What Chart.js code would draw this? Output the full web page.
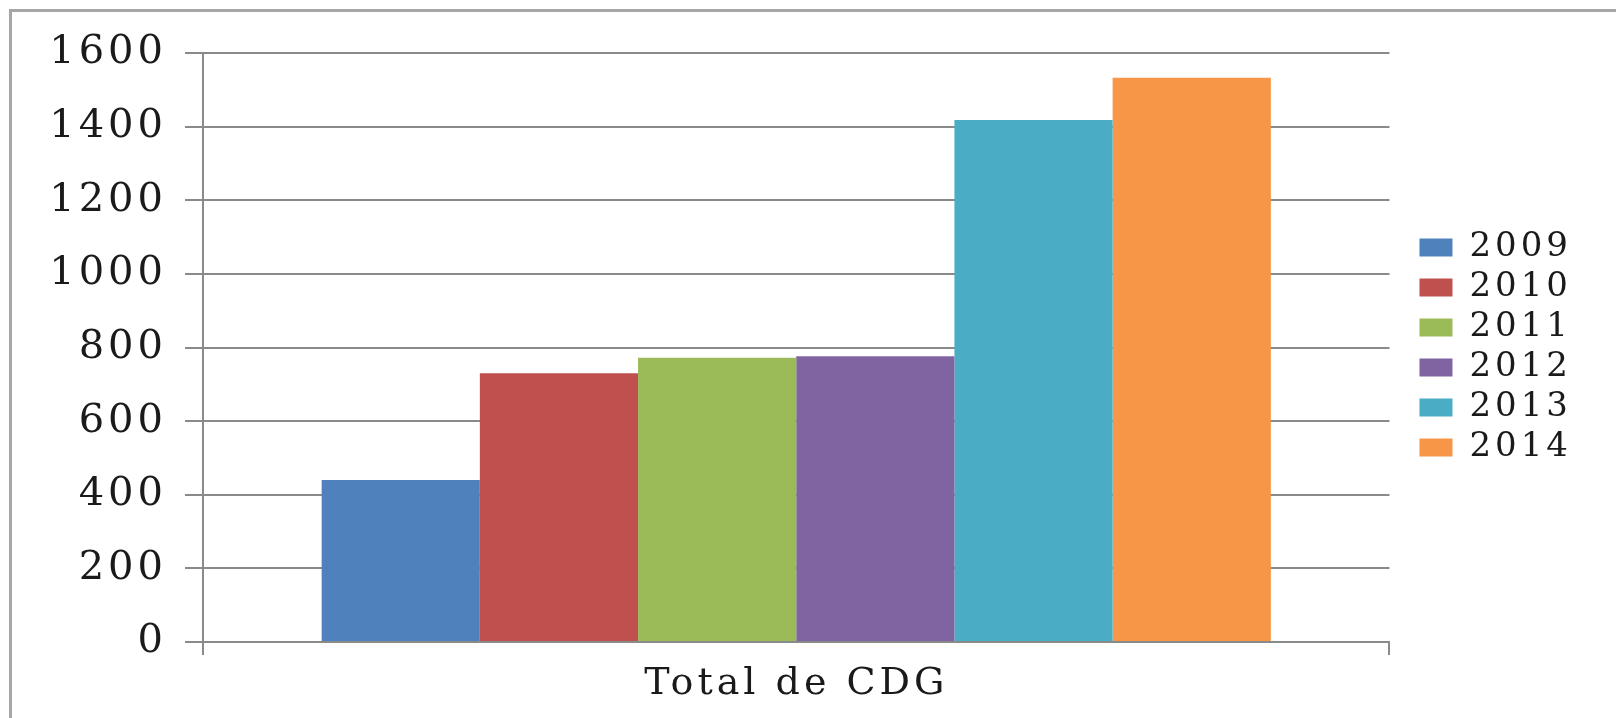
<!DOCTYPE html>
<html>
<head>
<meta charset="utf-8">
<title>Total de CDG</title>
<script src="https://cdn.jsdelivr.net/npm/chart.js@4"></script>
<style>
  html, body { margin: 0; padding: 0; background: #fff; }
  #wrap { position: relative; width: 1616px; height: 718px; overflow: hidden; }
  #frame {
    position: absolute; left: 9px; top: 9px; width: 1620px; height: 720px;
    border-left: 3px solid #a6a6a6; border-top: 3px solid #a6a6a6;
  }
  #chart { position: absolute; left: 0; top: 0; }
</style>
</head>
<body>
<div id="wrap">
  <div id="frame"></div>
  <canvas id="chart" width="1616" height="718"></canvas>
</div>
<script>
const categories = ['Total de CDG'];
const years = ['2009', '2010', '2011', '2012', '2013', '2014'];
const totals = [440, 730, 772, 776, 1418, 1533];
const yearColors = ['#4f81bd', '#c0504d', '#9bbb59', '#8064a2', '#4bacc6', '#f79646'];
const yMin = 0;
const yMax = 1600;
const yStep = 200;

const FONT = "'DejaVu Serif', 'Liberation Serif', serif";
const GRID = '#8a8a8a';
const SPACING = '4px';

// wide lettering like the original picture, and legend placement
const spacingPlugin = {
    id: 'spacing',
    beforeLayout(chart) { chart.ctx.letterSpacing = SPACING; },
    beforeDraw(chart) { chart.ctx.letterSpacing = SPACING; },
    afterLayout(chart) {
        const legend = chart.legend;
        legend.left += 24;
        legend.right += 24;
        legend.top = chart.chartArea.top;
        legend.bottom = chart.chartArea.bottom;
    }
};

const datasets = years.map((year, i) => ({
    label: year,
    data: [totals[i]],
    backgroundColor: yearColors[i],
    borderWidth: 0,
    categoryPercentage: 0.8,
    barPercentage: 1.0
}));

new Chart(document.getElementById('chart'), {
    type: 'bar',
    data: { labels: categories, datasets: datasets },
    plugins: [spacingPlugin],
    options: {
        responsive: false,
        animation: false,
        devicePixelRatio: 1,
        layout: { padding: { top: 53, left: 0, right: 58, bottom: 0 } },
        plugins: {
            tooltip: { enabled: false },
            legend: {
                position: 'right',
                align: 'center',
                labels: {
                    boxWidth: 33,
                    boxHeight: 18,
                    padding: 6,
                    color: '#1a1a1a',
                    font: { family: FONT, size: 34 }
                }
            }
        },
        scales: {
            x: {
                grid: {
                    drawOnChartArea: false,
                    drawTicks: true,
                    tickLength: 13,
                    color: GRID,
                    lineWidth: 2
                },
                border: { color: GRID, width: 2 },
                ticks: {
                    padding: 6,
                    color: '#1a1a1a',
                    font: { family: FONT, size: 38 }
                },
                afterFit(scale) { scale.height = 76; }
            },
            y: {
                min: yMin,
                max: yMax,
                grid: {
                    color: GRID,
                    lineWidth: 2,
                    tickLength: 18
                },
                border: { color: GRID, width: 2 },
                ticks: {
                    stepSize: yStep,
                    padding: 18,
                    color: '#1a1a1a',
                    font: { family: FONT, size: 40 },
                    callback: (value) => String(value)
                },
                afterFit(scale) { scale.width = 203; }
            }
        }
    }
});
</script>
</body>
</html>
